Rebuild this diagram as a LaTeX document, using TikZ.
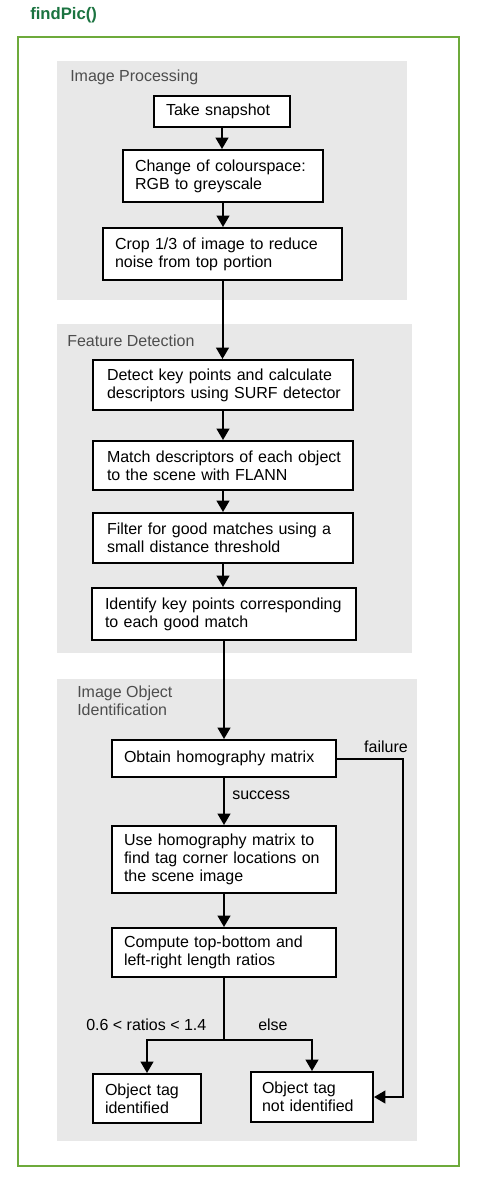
\documentclass[tikz,border=0pt]{standalone}
\usepackage{fontspec}
\setmainfont{Liberation Sans}
\usetikzlibrary{arrows.meta}
\definecolor{titlegreen}{HTML}{1B7340}
\definecolor{framegreen}{HTML}{6DAA3B}
\definecolor{panelgray}{HTML}{E8E8E8}
\definecolor{labelgray}{HTML}{4D4D4D}
\newcommand{\ol}[1]{\mbox{#1}}
\begin{document}
\begin{tikzpicture}[x=0.75pt,y=-0.75pt,
  every node/.style={font=\fontsize{12pt}{13.5pt}\selectfont},
  flowbox/.style={draw=black,line width=1.5pt,fill=white,align=left,inner xsep=9pt,inner ysep=0pt},
  panel/.style={fill=panelgray,draw=none},
  paneltitle/.style={text=labelgray,anchor=west,inner sep=0pt,align=left},
  plainlabel/.style={text=black,inner sep=0pt},
  link/.style={line width=1.5pt,draw=black},
  arrowlink/.style={link,-{Triangle[width=9.5pt,length=8.5pt]}}]
\useasboundingbox (0,0) rectangle (484,1186);
% title and frame
\node[anchor=west,inner sep=0pt,text=titlegreen,font=\fontsize{12.5pt}{13.5pt}\selectfont\bfseries] (title) at (30,15) {findPic()};
\draw[framegreen,line width=2.2pt] (18,37) rectangle (459,1166);
% panels
\fill[panel] (57,61) rectangle (407,300);
\fill[panel] (57,324) rectangle (412,653);
\fill[panel] (57,679) rectangle (417,1141);
\node[paneltitle] (t1) at (70,77) {Image Processing};
\node[paneltitle] (t2) at (67,341) {Feature Detection};
\node[paneltitle,anchor=north west] (t3) at (77,686) {Image Object\\Identification};
% boxes
\node[flowbox,minimum width=102pt,minimum height=23.25pt,text width=84pt] (b1) at (222,111.5) {\ol{Take snapshot}};
\node[flowbox,minimum width=150pt,minimum height=39pt,text width=132pt] (b2) at (223,176) {\ol{Change of colourspace:}\\\ol{RGB to greyscale}};
\node[flowbox,minimum width=179.25pt,minimum height=39pt,text width=161.25pt] (b3) at (222.5,254) {\ol{Crop 1/3 of image to reduce}\\\ol{noise from top portion}};
\node[flowbox,minimum width=195pt,minimum height=37.5pt,text width=174pt,inner xsep=10.5pt] (b4) at (223,385) {\ol{Detect key points and calculate}\\\ol{descriptors using SURF detector}};
\node[flowbox,minimum width=195pt,minimum height=36.75pt,text width=174pt,inner xsep=10.5pt] (b5) at (223,465.5) {\ol{Match descriptors of each object}\\\ol{to the scene with FLANN}};
\node[flowbox,minimum width=195pt,minimum height=37.5pt,text width=174pt,inner xsep=10.5pt] (b6) at (223,538) {\ol{Filter for good matches using a}\\\ol{small distance threshold}};
\node[flowbox,minimum width=198pt,minimum height=39pt,text width=178.5pt,inner xsep=9.75pt] (b7) at (224,614) {\ol{Identify key points corresponding}\\\ol{to each good match}};
\node[flowbox,minimum width=168pt,minimum height=27.75pt,text width=150pt] (b8) at (224,758.5) {\ol{Obtain homography matrix}};
\node[flowbox,minimum width=168pt,minimum height=50.25pt,text width=150pt] (b9) at (224,859.5) {\ol{Use homography matrix to}\\\ol{find tag corner locations on}\\\ol{the scene image}};
\node[flowbox,minimum width=168pt,minimum height=36.75pt,text width=150pt] (b10) at (224,952.5) {\ol{Compute top-bottom and}\\\ol{left-right length ratios}};
\node[flowbox,minimum width=81pt,minimum height=36.75pt,text width=63pt,inner xsep=9pt] (b11) at (147,1098.5) {\ol{Object tag}\\\ol{identified}};
\node[flowbox,minimum width=91.5pt,minimum height=37.5pt,text width=75pt,inner xsep=8.25pt] (b12) at (312,1097) {\ol{Object tag}\\\ol{not identified}};
% straight connectors
\draw[arrowlink] (b1.south) -- (b1.south |- b2.north);
\draw[arrowlink] (b2.south) -- (b2.south |- b3.north);
\draw[arrowlink] (b3.south) -- (b3.south |- b4.north);
\draw[arrowlink] (b4.south) -- (b4.south |- b5.north);
\draw[arrowlink] (b5.south) -- (b5.south |- b6.north);
\draw[arrowlink] (b6.south) -- (b6.south |- b7.north);
\draw[arrowlink] (b7.south) -- (b7.south |- b8.north);
\draw[arrowlink] (b8.south) -- (b8.south |- b9.north);
\draw[arrowlink] (b9.south) -- (b9.south |- b10.north);
\node[plainlabel,anchor=west] (succ) at (232,795) {success};
% failure branch
\coordinate (fcorner) at (403,758.5);
\draw[arrowlink] (b8.east) -- (fcorner) |- (b12.east);
\node[plainlabel] (fail) at (386,747) {failure};
% ratio split
\coordinate (split) at (224,1040);
\draw[link] (b10.south) -- (split);
\draw[arrowlink] (split) -| (b11.north);
\draw[arrowlink] (split) -| (b12.north);
\node[plainlabel,anchor=west] (ratio) at (86,1025) {0.6 < ratios < 1.4};
\node[plainlabel,anchor=west] (else) at (258,1025) {else};
\end{tikzpicture}
\end{document}
